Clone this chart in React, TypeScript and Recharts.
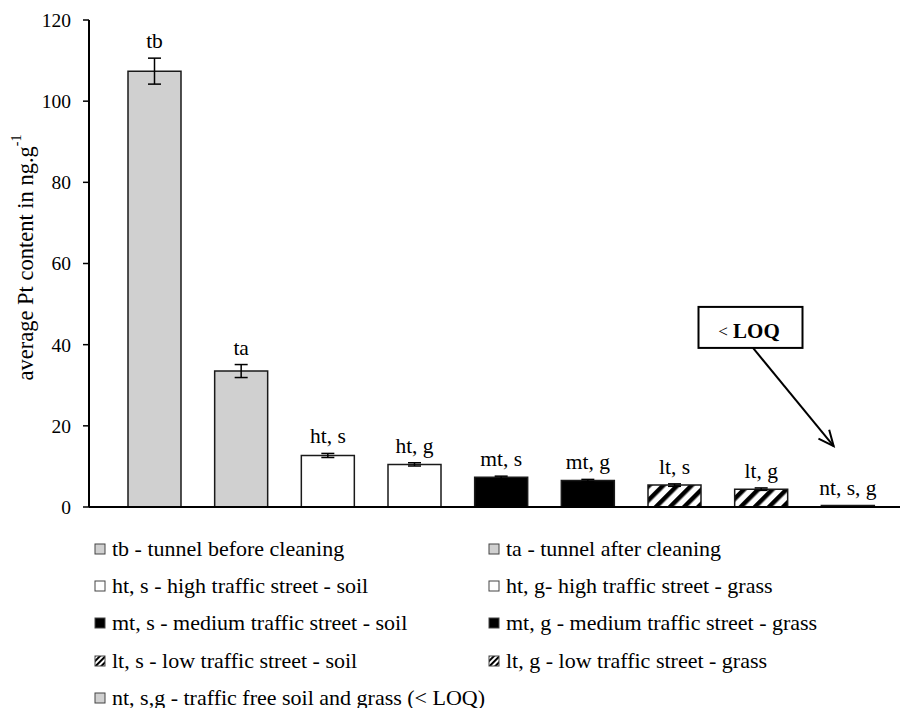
import React from 'react';
import { BarChart, Bar, XAxis, YAxis, ErrorBar, Cell, LabelList, ReferenceLine } from 'recharts';

// ---------- data ----------
const categories = ['tb', 'ta', 'ht, s', 'ht, g', 'mt, s', 'mt, g', 'lt, s', 'lt, g', 'nt, s, g'];
const ptContent = [107.4, 33.5, 12.7, 10.5, 7.3, 6.5, 5.4, 4.4, 0.4];
const ptError = [3.2, 1.6, 0.5, 0.4, 0.3, 0.3, 0.3, 0.3, 0];
const categoryGroup = ['tunnel', 'tunnel', 'high', 'high', 'medium', 'medium', 'low', 'low', 'none'];
const yTicks = [0, 20, 40, 60, 80, 100, 120];
const legendLabels = [
  'tb - tunnel before cleaning',
  'ta - tunnel after cleaning',
  'ht, s - high traffic street - soil',
  'ht, g- high traffic street - grass',
  'mt, s - medium traffic street - soil',
  'mt, g - medium traffic street - grass',
  'lt, s - low traffic street - soil',
  'lt, g - low traffic street - grass',
  'nt, s,g - traffic free soil and grass (< LOQ)',
];
const legendGroup = ['tunnel', 'tunnel', 'high', 'high', 'medium', 'medium', 'low', 'low', 'none'];
const calloutSymbol = '<';
const calloutText = 'LOQ';
const calloutFrom = { category: 'lt, g', value: 39.2 };
const calloutTo = { category: 'nt, s, g', value: 15 };

// ---------- styles ----------
const FONT = '"Liberation Serif", Tinos, "Times New Roman", Times, "DejaVu Serif", serif';
const groupFill: Record<string, string> = {
  tunnel: '#d0d0d0',
  high: '#ffffff',
  medium: '#000000',
  low: 'url(#hatchBar)',
  none: '#d0d0d0',
};

const data = categories.map((c, i) => ({ category: c, value: ptContent[i], err: ptError[i] }));

const BarTopLabel = (props: any) => {
  const { x, y, width, height, value } = props;
  const i = categories.indexOf(value);
  const v = ptContent[i];
  const pxPerUnit = v ? Math.abs(height) / v : 0;
  const top = y - ptError[i] * pxPerUnit;
  return (
    <text x={x + width / 2} y={top - 10} textAnchor="middle" style={{ fontFamily: FONT }} fontSize={21.5} fill="#000">
      {value}
    </text>
  );
};

const YTitle = (props: any) => {
  const vb = props.viewBox || { x: 0, y: 0, width: 89, height: 487 };
  const cx = vb.x + 25;
  const cy = vb.y + vb.height / 2 - 6;
  return (
    <text
      x={cx}
      y={cy}
      transform={`rotate(-90, ${cx}, ${cy})`}
      textAnchor="middle"
      dominantBaseline="central"
      style={{ fontFamily: FONT }}
      fontSize={22.5}
      fill="#000"
    >
      average Pt content in ng.g
      <tspan dy={-9} fontSize={14}>-1</tspan>
    </text>
  );
};

const LoqCallout = (props: any) => {
  const { x1, y1, x2, y2 } = props;
  if ([x1, y1, x2, y2].some((n) => typeof n !== 'number' || isNaN(n))) return null;
  const sx = x1 - 8;
  const ex = x2 - 14;
  const ang = Math.atan2(y2 - y1, ex - sx);
  const len = 17;
  const spread = 0.42;
  const a1x = ex - len * Math.cos(ang - spread);
  const a1y = y2 - len * Math.sin(ang - spread);
  const a2x = ex - len * Math.cos(ang + spread);
  const a2y = y2 - len * Math.sin(ang + spread);
  return (
    <g>
      <line x1={sx} y1={y1} x2={ex} y2={y2} stroke="#000" strokeWidth={2} />
      <polyline
        points={`${a1x},${a1y} ${ex},${y2} ${a2x},${a2y}`}
        fill="none"
        stroke="#000"
        strokeWidth={2}
      />
      <rect x={sx - 54.5} y={y1 - 41} width={104} height={41} fill="#fff" stroke="#000" strokeWidth={2} />
      <text x={sx - 4} y={y1 - 10} textAnchor="middle" style={{ fontFamily: FONT }} fontSize={21} fill="#000">
        <tspan fontSize={17} dy={-1}>{calloutSymbol}</tspan>
        <tspan fontWeight="bold" dy={1}>{' ' + calloutText}</tspan>
      </text>
    </g>
  );
};

const Swatch = ({ group }: { group: string }) => {
  const fill = group === 'low' ? 'url(#hatchLegend)' : groupFill[group];
  return (
    <svg width={12} height={12} style={{ display: 'block', marginRight: 6 }}>
      <defs>
        <pattern id="hatchLegend" patternUnits="userSpaceOnUse" width="4" height="4" patternTransform="rotate(45)">
          <rect x="0" y="0" width="4" height="4" fill="#fff" />
          <rect x="0" y="0" width="2" height="4" fill="#000" />
        </pattern>
      </defs>
      <rect x={1} y={1} width={10} height={10} fill={fill} stroke="#444" strokeWidth={1} />
    </svg>
  );
};

export default function App() {
  return (
    <div style={{ position: 'absolute', left: 0, top: 0, width: 907, height: 708, background: '#fff', fontFamily: FONT }}>
      <BarChart
        width={907}
        height={708}
        data={data}
        margin={{ top: 20, right: 7, bottom: 200, left: 0 }}
        barCategoryGap={0}
        style={{ fontFamily: FONT }}
      >
        <defs>
          <pattern id="hatchBar" patternUnits="userSpaceOnUse" width="10" height="10" patternTransform="rotate(45)">
            <rect x="0" y="0" width="10" height="10" fill="#fff" />
            <rect x="0" y="0" width="4.5" height="10" fill="#000" />
          </pattern>
        </defs>
        <XAxis
          dataKey="category"
          tick={false}
          tickLine={false}
          height={1}
          padding={{ left: 22, right: 9 }}
          axisLine={{ stroke: '#000', strokeWidth: 2 }}
        />
        <YAxis
          domain={[0, 120]}
          ticks={yTicks}
          width={89}
          tickSize={6}
          tickMargin={12}
          interval={0}
          axisLine={{ stroke: '#000', strokeWidth: 2 }}
          tickLine={{ stroke: '#000', strokeWidth: 1.5 }}
          tick={{ fill: '#000', fontSize: 19.5, style: { fontFamily: FONT } } as any}
          label={{ content: YTitle } as any}
        />
        <Bar dataKey="value" barSize={53} stroke="#1a1a1a" strokeWidth={1.5} isAnimationActive={false}>
          {data.map((d, i) => (
            <Cell key={d.category} fill={groupFill[categoryGroup[i]]} />
          ))}
          <ErrorBar dataKey="err" width={6.5} stroke="#000" strokeWidth={1.5} direction="y" isAnimationActive={false} />
          <LabelList dataKey="category" content={BarTopLabel} />
        </Bar>
        <ReferenceLine
          segment={[
            { x: calloutFrom.category, y: calloutFrom.value },
            { x: calloutTo.category, y: calloutTo.value },
          ]}
          ifOverflow="visible"
          shape={LoqCallout}
        />
      </BarChart>
      <div
        style={{
          position: 'absolute',
          left: 94,
          top: 530,
          width: 810,
          display: 'grid',
          gridTemplateColumns: '394px 410px',
          fontFamily: FONT,
          fontSize: 22,
          color: '#000',
        }}
      >
        {legendLabels.map((label, i) => (
          <div key={label} style={{ display: 'flex', alignItems: 'center', height: 37.3, whiteSpace: 'nowrap' }}>
            <Swatch group={legendGroup[i]} />
            <span>{label}</span>
          </div>
        ))}
      </div>
    </div>
  );
}
